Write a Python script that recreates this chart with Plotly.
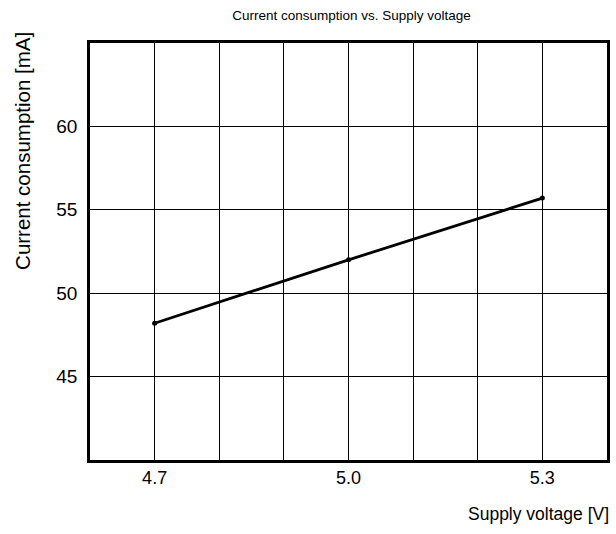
import plotly.graph_objects as go

voltage = [4.7, 5.0, 5.3]
current = [48.2, 52.0, 55.7]
x_tick_vals = [4.7, 5.0, 5.3]
x_tick_text = ["4.7", "5.0", "5.3"]
y_tick_vals = [45, 50, 55, 60]

font = "Liberation Sans, Arial, sans-serif"

fig = go.Figure()
fig.add_trace(go.Scatter(
    x=voltage, y=current, mode="lines+markers",
    line=dict(color="black", width=2.8),
    marker=dict(color="black", size=5),
    showlegend=False,
))

fig.update_xaxes(
    range=[4.6, 5.4], tickvals=x_tick_vals, ticktext=x_tick_text,
    showgrid=False, zeroline=False,
    showline=True, linecolor="black", linewidth=2.5, mirror=True,
    ticks="", ticklabelstandoff=0,
    tickfont=dict(family=font, size=18, color="black"),
    minor=dict(dtick=0.1, tick0=4.6, showgrid=True, gridcolor="black", gridwidth=1.2),
)
fig.update_yaxes(
    range=[40, 65], tickvals=y_tick_vals,
    showgrid=True, gridcolor="black", gridwidth=1.2, zeroline=False,
    showline=True, linecolor="black", linewidth=2.5, mirror=True,
    ticks="", ticklabelstandoff=6,
    tickfont=dict(family=font, size=19, color="black"),
)

fig.update_layout(
    width=616, height=534,
    margin=dict(l=90, r=6, t=43, b=74),
    paper_bgcolor="white", plot_bgcolor="white",
    font=dict(family=font, size=13, color="black"),
    title=dict(text="Current consumption vs. Supply voltage", x=0.5706, xanchor="center",
               y=0.972, yanchor="middle", font=dict(family=font, size=13.5, color="black")),
    annotations=[
        dict(text="Current consumption [mA]", xref="paper", yref="paper",
             x=-0.131, y=1.032, xanchor="center", yanchor="top", textangle=-90,
             showarrow=False, font=dict(family=font, size=20.5, color="black")),
        dict(text="Supply voltage [V]", xref="paper", yref="paper",
             x=1.0, y=-0.13, xanchor="right", yanchor="middle", xshift=4,
             showarrow=False, font=dict(family=font, size=17.5, color="black")),
    ],
)

fig.write_html("out.html", config={"displayModeBar": False},
               post_script="document.body.style.margin='0';")
